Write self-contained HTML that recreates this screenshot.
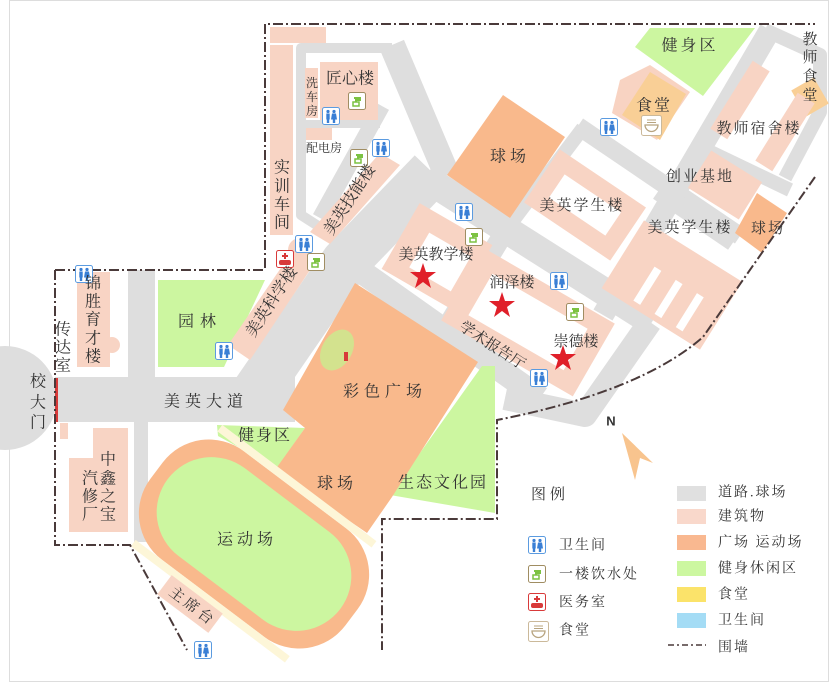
<!DOCTYPE html>
<html><head><meta charset="utf-8"><style>
html,body{margin:0;padding:0;background:#fff}
svg{display:block}
text{font-family:"Liberation Serif","Noto Serif CJK SC",serif;fill:#333;text-anchor:middle;dominant-baseline:central}
.s{font-family:"Liberation Sans","Noto Sans CJK SC",sans-serif}
</style></head><body>
<svg width="831" height="683" viewBox="0 0 831 683" xmlns="http://www.w3.org/2000/svg">
<defs>
<g id="wc"><rect x="0.5" y="0.5" width="17" height="17" rx="2" fill="#fff" stroke="#5b9be0"/>
<circle cx="6" cy="4.5" r="1.6" fill="#3a7fd5"/><rect x="4.3" y="6.5" width="3.4" height="6" fill="#3a7fd5"/><rect x="4.8" y="12" width="2.4" height="4" fill="#3a7fd5"/>
<circle cx="12" cy="4.5" r="1.6" fill="#3a7fd5"/><path d="M10,6.5h4l1,6h-6z" fill="#3a7fd5"/><rect x="10.8" y="12" width="2.4" height="4" fill="#3a7fd5"/></g>
<g id="wt"><rect x="0.5" y="0.5" width="17" height="17" rx="2" fill="#fff" stroke="#a08d62"/>
<path d="M6,6h6v2h-4v2" fill="none" stroke="#7cc242" stroke-width="2"/><path d="M5,10h6v4h-6z" fill="none" stroke="#7cc242" stroke-width="1.5"/></g>
<g id="md"><rect x="0.5" y="0.5" width="17" height="17" rx="2" fill="#fff" stroke="#d83a3a"/>
<path d="M8,3h2v2h2v2h-2v2h-2v-2h-2v-2h2z" fill="#d83a3a"/><rect x="3" y="10" width="12" height="5" rx="2" fill="#d83a3a"/></g>
<g id="ct"><rect x="0.5" y="0.5" width="20" height="20" rx="2" fill="#fff" stroke="#cbb99a"/>
<path d="M4,10h13a6.5,6.5 0 0 1 -13,0z" fill="none" stroke="#b8a47f" stroke-width="1.3"/><path d="M6,5h9M6,7.5h9" stroke="#b8a47f" stroke-width="1"/></g>
</defs>
<rect x="9.5" y="0.5" width="819" height="681" fill="#fff" stroke="#ddd"/>

<g fill="#dedede">
<ellipse cx="5" cy="398" rx="52" ry="52"/>
<rect x="55" y="377" width="240" height="45"/>
<rect x="128" y="270" width="27" height="108"/>
<rect x="134" y="420" width="14" height="122"/>
</g>
<g fill="none" stroke="#dedede" stroke-linejoin="round">
<polyline points="250,400 345,262 432,172" stroke-width="48"/>
<polyline points="392,45 447,175" stroke-width="26"/>
<polyline points="425,178 652,322" stroke-width="28"/>
<polyline points="578,126 740,236" stroke-width="18"/>
<polyline points="583,128 512,222" stroke-width="14"/>
<polyline points="770,30 603,315" stroke-width="22"/>
<polyline points="765,30 820,55 820,112 785,178" stroke-width="14"/>
<polyline points="700,147 790,190" stroke-width="14"/>
<polyline points="657,193 732,244" stroke-width="14"/>
<polyline points="502,236 445,330" stroke-width="20"/>
<polyline points="362,272 540,398" stroke-width="24"/>
<polyline points="650,322 585,415 505,398" stroke-width="24"/>
<polyline points="340,240 301,215 301,48 392,48" stroke-width="10"/>
<polyline points="305,124 380,124" stroke-width="8"/>
<polyline points="382,106 320,218" stroke-width="16"/>
</g>

<g fill="#ccf6a0">
<polygon points="158,280 265,280 224,367 158,367"/>
<polygon points="217,425 305,428 277,468 218,436"/>
<polygon points="482,366 495,366 495,513 390,495"/>
<polygon points="650,28 755,28 703,96 635,47"/>
</g>

<g fill="#f9b98c">
<polygon points="355,283 478,362 392,497 367,533 275,470 305,428 283,410"/>
<polygon points="503,95 565,137 510,218 447,175"/>
<polygon points="757,193 787,213 762,253 735,233"/>
</g>
<ellipse cx="337" cy="350" rx="15" ry="22" transform="rotate(30 337 350)" fill="#d3e28e"/>
<rect x="344" y="352" width="4" height="9" fill="#d83a3a"/>

<g transform="translate(254,544) rotate(37)">
<rect x="-122" y="-68" width="244" height="136" rx="58" fill="#f9b98c"/>
<rect x="-97" y="-76" width="193" height="8" fill="#fdf6d8"/>
<rect x="-97" y="68" width="193" height="8" fill="#fdf6d8"/>
<rect x="-108" y="-55" width="216" height="110" rx="55" fill="#ccf6a0"/>
</g>

<polygon points="620,80 650,65 690,92 657,140 612,113" fill="#f8d3c2"/>
<polygon points="650,72 686,94 660,140 622,115" fill="#f9cf96"/>
<rect x="797" y="82" width="26" height="30" fill="#f9cf96" transform="rotate(-30 810 97)"/>

<g fill="#f8d4c4">
<rect x="270" y="27" width="56" height="16"/>
<rect x="270" y="45" width="23" height="190"/>
<rect x="320" y="62" width="58" height="58"/>
<rect x="305" y="68" width="13" height="50"/>
<rect x="306" y="128" width="26" height="12"/>
<polygon points="310,232 330,244 400,165 380,153"/>
<polygon points="228,345 250,360 318,258 296,246"/>
<circle cx="300" cy="250" r="12"/>
<rect x="77" y="272" width="33" height="95"/>
<circle cx="112" cy="345" r="8"/>
<rect x="60" y="423" width="8" height="16"/>
<polygon points="93,428 128,428 128,532 69,532 69,458 93,458"/>
<g transform="translate(190,604) rotate(37)"><rect x="-32" y="-12" width="64" height="24"/></g>
<g transform="translate(437,257) rotate(30)"><rect x="-42" y="-38" width="84" height="76"/></g>
<g transform="translate(528,322) rotate(30)"><rect x="-76" y="-42" width="152" height="84"/></g>
<g transform="translate(585,205) rotate(34)"><rect x="-52" y="-32" width="104" height="64"/></g>
<g transform="translate(672,285) rotate(32)"><rect x="-58" y="-40" width="116" height="80"/></g>
<g transform="translate(725,185) rotate(32)"><rect x="-30" y="-22" width="60" height="44"/></g>
<g transform="translate(740,100) rotate(-58)"><rect x="-40" y="-10" width="80" height="20"/></g>
<g transform="translate(785,132) rotate(-58)"><rect x="-40" y="-10" width="80" height="20"/></g>
</g>
<g fill="#fff">
<g transform="translate(440,262) rotate(30)"><rect x="-24" y="-20" width="48" height="40"/></g>
<g transform="translate(528,322) rotate(30)"><rect x="-55" y="-24" width="110" height="48"/></g>
<g transform="translate(585,205) rotate(34)"><rect x="-34" y="-14" width="68" height="28"/></g>
<g transform="translate(680,292) rotate(32)"><rect x="-35" y="-8" width="8" height="40"/><rect x="-10" y="-8" width="8" height="40"/><rect x="15" y="-8" width="8" height="40"/></g>
</g>
<rect x="55" y="378" width="3" height="44" fill="#d83a3a"/>

<g fill="none" stroke="#4a3a3a" stroke-width="2" stroke-dasharray="10,3,2,3">
<path d="M265,268 V24 H815"/>
<path d="M55,270 H265"/>
<path d="M55,270 V545 H130 L187,650"/>
<path d="M815,177 L703,337 Q640,392 497,420 V519 H382 V650"/>
</g>

<g fill="#e0202a">
<polygon points="423,263 426,272 436,272 428,278 431,288 423,282 415,288 418,278 410,272 420,272"/>
<polygon points="502,292 505,301 515,301 507,307 510,317 502,311 494,317 497,307 489,301 499,301"/>
<polygon points="563,345 566,354 576,354 568,360 571,370 563,364 555,370 558,360 550,354 560,354"/>
</g>

<use href="#wc" x="322" y="107"/><use href="#wc" x="372" y="139"/><use href="#wc" x="295" y="235"/>
<use href="#wc" x="75" y="265"/><use href="#wc" x="215" y="342"/><use href="#wc" x="455" y="203"/>
<use href="#wc" x="550" y="272"/><use href="#wc" x="530" y="369"/><use href="#wc" x="600" y="118"/>
<use href="#wc" x="194" y="641"/>
<use href="#wt" x="348" y="92"/><use href="#wt" x="350" y="149"/><use href="#wt" x="307" y="253"/>
<use href="#wt" x="465" y="228"/><use href="#wt" x="566" y="303"/>
<use href="#md" x="276" y="250"/>
<use href="#ct" x="641" y="115"/>

<g font-size="16">
<text x="350" y="79">匠心楼</text>
<text x="282" y="168">实</text><text x="282" y="187">训</text><text x="282" y="205">车</text><text x="282" y="223">间</text>
<text x="350" y="200" transform="rotate(-57 350 200)">美英技能楼</text>
<text x="272" y="302" transform="rotate(-57 272 302)">美英科学楼</text>
<text x="93" y="284">锦</text><text x="93" y="302">胜</text><text x="93" y="320">育</text><text x="93" y="339">才</text><text x="93" y="357">楼</text>
<text x="63" y="330">传</text><text x="63" y="348">达</text><text x="63" y="366">室</text>
<text x="38" y="382">校</text><text x="38" y="403">大</text><text x="38" y="423">门</text>
<text x="200" y="322" letter-spacing="6">园林</text>
<text x="206" y="402" letter-spacing="5">美英大道</text>
<text x="108" y="460">中</text><text x="108" y="479">鑫</text><text x="108" y="497">之</text><text x="108" y="515">宝</text>
<text x="90" y="479">汽</text><text x="90" y="497">修</text><text x="90" y="515">厂</text>
<text x="265" y="436" letter-spacing="2">健身区</text>
<text x="385" y="392" letter-spacing="5">彩色广场</text>
<text x="337" y="484" letter-spacing="4">球场</text>
<text x="443" y="483" letter-spacing="2">生态文化园</text>
<text x="247" y="540" letter-spacing="4">运动场</text>
<text x="192" y="607" transform="rotate(37 192 607)" font-size="15" letter-spacing="3">主席台</text>
<text x="436" y="255" font-size="15">美英教学楼</text>
<text x="512" y="283" font-size="15">润泽楼</text>
<text x="492" y="346" transform="rotate(33 492 346)" font-size="15">学术报告厅</text>
<text x="576" y="342" font-size="15">崇德楼</text>
<text x="510" y="157" letter-spacing="4">球场</text>
<text x="582" y="206" font-size="15" letter-spacing="2">美英学生楼</text>
<text x="690" y="228" font-size="15" letter-spacing="2">美英学生楼</text>
<text x="768" y="229" font-size="15" letter-spacing="2">球场</text>
<text x="700" y="177" font-size="15" letter-spacing="2">创业基地</text>
<text x="759" y="129" font-size="15" letter-spacing="2">教师宿舍楼</text>
<text x="810" y="40" font-size="15">教</text><text x="810" y="58" font-size="15">师</text><text x="810" y="77" font-size="15">食</text><text x="810" y="96" font-size="15">堂</text>
<text x="654" y="106" letter-spacing="2">食堂</text>
<text x="690" y="46" letter-spacing="3">健身区</text>
</g>
<g font-size="12">
<text x="312" y="83">洗</text><text x="312" y="97">车</text><text x="312" y="111">房</text>
<text x="324" y="148">配电房</text>
</g>

<text class="s" x="611" y="421" font-size="13" font-weight="bold">N</text>
<polygon points="622,433 653,463 640,458 635,480" fill="#f8c48e"/>

<text x="550" y="495" font-size="15" letter-spacing="4">图例</text>
<use href="#wc" x="528" y="536"/><use href="#wt" x="528" y="565"/><use href="#md" x="528" y="593"/><use href="#ct" x="528" y="621"/>
<g font-size="14">
<text x="559" y="546" style="text-anchor:start" letter-spacing="2">卫生间</text>
<text x="559" y="575" style="text-anchor:start" letter-spacing="2">一楼饮水处</text>
<text x="559" y="603" style="text-anchor:start" letter-spacing="2">医务室</text>
<text x="559" y="631" style="text-anchor:start" letter-spacing="2">食堂</text>
</g>
<rect x="677" y="486" width="29" height="15" fill="#e0e0e0"/>
<rect x="677" y="509" width="29" height="15" fill="#f9d8cb"/>
<rect x="677" y="535" width="29" height="15" fill="#f9b890"/>
<rect x="677" y="561" width="29" height="15" fill="#ccf7a0"/>
<rect x="677" y="587" width="29" height="15" fill="#fbe36a"/>
<rect x="677" y="613" width="29" height="15" fill="#a4dcf5"/>
<line x1="668" y1="645" x2="706" y2="645" stroke="#4a3a3a" stroke-width="1.5" stroke-dasharray="6,3,2,3"/>
<g font-size="14">
<text x="718" y="493" style="text-anchor:start" letter-spacing="2">道路.球场</text>
<text x="718" y="517" style="text-anchor:start" letter-spacing="2">建筑物</text>
<text x="718" y="543" style="text-anchor:start" letter-spacing="2">广场 运动场</text>
<text x="718" y="569" style="text-anchor:start" letter-spacing="2">健身休闲区</text>
<text x="718" y="595" style="text-anchor:start" letter-spacing="2">食堂</text>
<text x="718" y="621" style="text-anchor:start" letter-spacing="2">卫生间</text>
<text x="718" y="648" style="text-anchor:start" letter-spacing="2">围墙</text>
</g>
</svg>
</body></html>
